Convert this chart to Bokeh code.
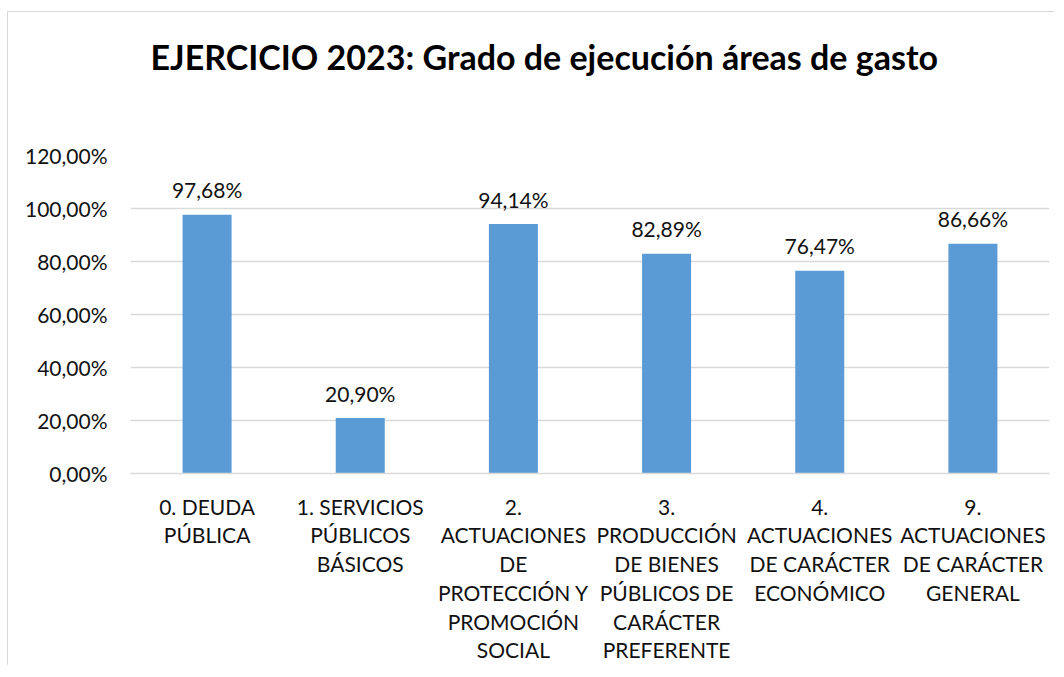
from bokeh.plotting import figure
from bokeh.models import FactorRange, Range1d, FixedTicker, Title, ColumnDataSource
from bokeh.core.properties import value
from bokeh.embed import file_html
from bokeh.resources import INLINE

categories = [
    "0. DEUDA\nPÚBLICA",
    "1. SERVICIOS\nPÚBLICOS\nBÁSICOS",
    "2.\nACTUACIONES\nDE\nPROTECCIÓN Y\nPROMOCIÓN\nSOCIAL",
    "3.\nPRODUCCIÓN\nDE BIENES\nPÚBLICOS DE\nCARÁCTER\nPREFERENTE",
    "4.\nACTUACIONES\nDE CARÁCTER\nECONÓMICO",
    "9.\nACTUACIONES\nDE CARÁCTER\nGENERAL",
]
values = [97.68, 20.90, 94.14, 82.89, 76.47, 86.66]
value_labels = ["97,68%", "20,90%", "94,14%", "82,89%", "76,47%", "86,66%"]
y_ticks = [0, 20, 40, 60, 80, 100, 120]
y_tick_labels = ["0,00%", "20,00%", "40,00%", "60,00%", "80,00%", "100,00%", "120,00%"]
title_text = "EJERCICIO 2023: Grado de ejecución áreas de gasto"

FONT = "Lato"
GRID = "#d9d9d9"
BAR = "#5b9bd5"
TXT = "#111111"

src = ColumnDataSource(dict(cat=categories, val=values, lab=value_labels))

p = figure(
    frame_width=919, frame_height=318,
    x_range=FactorRange(factors=categories),
    y_range=Range1d(0, 120),
    output_backend="svg", toolbar_location=None,
    min_border_left=122, min_border_right=5,
    min_border_top=143, min_border_bottom=5,
)
p.styles = {"margin-top": "11px", "margin-left": "7px",
            "border-top": "1px solid #d9d9d9", "border-left": "1px solid #d9d9d9"}
p.title = None
p.outline_line_color = None
p.background_fill_color = "white"
p.border_fill_color = "white"

p.vbar(x="cat", top="val", width=0.32, source=src, color=BAR, line_color=None)
p.text(x="cat", y="val", text="lab", source=src, text_align="center",
       text_baseline="alphabetic", y_offset=-25, text_font=value(FONT),
       text_font_size="21px", text_color=TXT)

p.xgrid.grid_line_color = None
p.ygrid.grid_line_color = GRID
p.ygrid.grid_line_width = 1.3
p.yaxis.ticker = FixedTicker(ticks=y_ticks)
p.yaxis.major_label_overrides = {t: l for t, l in zip(y_ticks, y_tick_labels)}
p.yaxis.axis_line_color = None
p.yaxis.major_tick_line_color = None
p.yaxis.minor_tick_line_color = None
p.yaxis.major_label_standoff = 17
p.xaxis.axis_line_color = GRID
p.xaxis.axis_line_width = 1.3
p.xaxis.major_tick_line_color = None
p.xaxis.major_label_standoff = 14
for ax in (p.xaxis, p.yaxis):
    ax.major_label_text_font = FONT
    ax.major_label_text_font_size = "21px"
    ax.major_label_text_color = TXT
p.xaxis.major_label_text_line_height = 1.15

spacer = Title(text=" ", text_font_size="10px", standoff=42)
main_title = Title(text=title_text, align="left", offset=20, vertical_align="top",
                   standoff=44, text_font=FONT, text_font_style="bold",
                   text_font_size="34px", text_color="#000000")
p.add_layout(spacer, "above")
p.add_layout(main_title, "above")

open("out.html", "w").write(file_html(p, INLINE))
